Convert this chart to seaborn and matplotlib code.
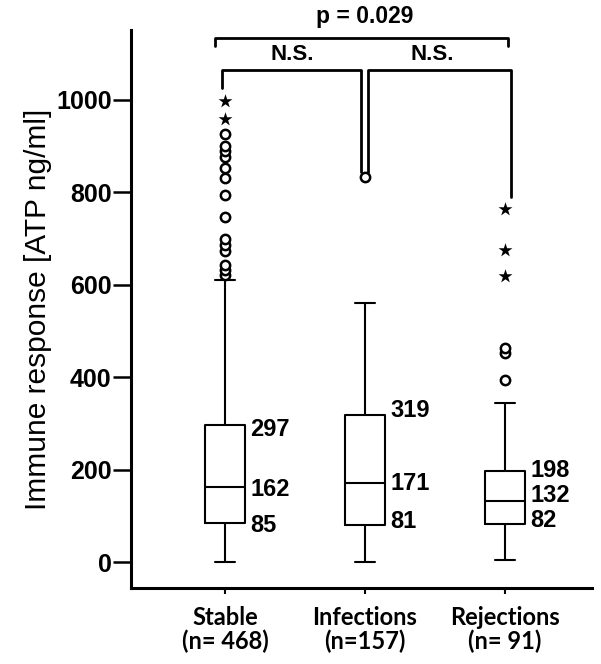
import numpy as np
import pandas as pd
import matplotlib
matplotlib.use("Agg")
import matplotlib.pyplot as plt
import seaborn as sns

# ---- data ----
groups = ["Stable", "Infections", "Rejections"]
tick_labels = ["Stable\n(n= 468)", "Infections\n(n=157)", "Rejections\n(n= 91)"]
whisker_low = [0, 0, 5]
q1 = [85, 81, 82]
median = [162, 171, 132]
q3 = [297, 319, 198]
whisker_high = [610, 560, 345]
circle_outliers = [
    [621, 632, 643, 672, 686, 698, 746, 794, 830, 852, 876, 888, 899, 926],
    [832],
    [394, 452, 462],
]
star_outliers = [
    [958, 997],
    [],
    [619, 675, 763],
]
p_text = "p = 0.029"
ns_text = "N.S."

sns.set_style("ticks")
plt.rcParams["font.family"] = ["Liberation Sans", "DejaVu Sans"]
for k in ("text.color", "axes.labelcolor", "xtick.color", "ytick.color",
          "axes.edgecolor"):
    plt.rcParams[k] = "black"

rows = []
for g, lo, a, m, b, hi in zip(groups, whisker_low, q1, median, q3, whisker_high):
    for v in (lo, a, m, b, hi):
        rows.append({"group": g, "value": v})
df = pd.DataFrame(rows)

fig = plt.figure(figsize=(6.01, 6.64), dpi=100)
ax = fig.add_axes([0.218, 0.1145, 0.767, 0.8405])

sns.boxplot(data=df, x="group", y="value", order=groups, whis=(0, 100),
            width=0.29, fill=False, color="black", linecolor="black",
            linewidth=1.5, showfliers=False, ax=ax)

for i, (circ, star) in enumerate(zip(circle_outliers, star_outliers)):
    if circ:
        ax.scatter([i] * len(circ), circ, s=45, facecolors="white",
                   edgecolors="black", linewidths=1.8, zorder=3, clip_on=False)
    if star:
        ax.scatter([i] * len(star), star, s=110, marker="*", color="black",
                   linewidths=0, zorder=3, clip_on=False)

# value labels beside boxes
label_offsets = [[-11, -6, -5], [8, 0, 6], [1, 11, 7]]
for i in range(3):
    for val, off in zip((q3[i], median[i], q1[i]), label_offsets[i]):
        ax.text(i + 0.18, val + off, str(val), ha="left", va="center",
                fontsize=17, fontweight="bold")

# significance brackets
lw = 2.0
ax.plot([-0.07, -0.07, 2.02, 2.02], [1117, 1134, 1134, 1117], color="black",
        lw=lw, clip_on=False)
ax.text(1.0, 1180, p_text, ha="center", va="center", fontsize=16.5,
        fontweight="bold")
ax.plot([-0.02, -0.02, 0.97, 0.97], [1026, 1065, 1065, 844], color="black",
        lw=lw, clip_on=False)
ax.plot([1.02, 1.02, 2.04, 2.04], [844, 1065, 1065, 790], color="black",
        lw=lw, clip_on=False)
ax.text(0.48, 1097, ns_text, ha="center", va="center", fontsize=16,
        fontweight="bold")
ax.text(1.48, 1097, ns_text, ha="center", va="center", fontsize=16,
        fontweight="bold")

ax.set_xlim(-0.67, 2.62)
ax.set_ylim(-56, 1151)
ax.set_yticks([0, 200, 400, 600, 800, 1000])
ax.set_yticklabels(["0", "200", "400", "600", "800", "1000"],
                   fontsize=18, fontweight="bold")
ax.set_xticks([0, 1, 2])
ax.set_xticklabels(tick_labels, fontsize=17, fontweight="bold",
                   family=["Lato", "DejaVu Sans"], linespacing=1.05)
ax.set_xlabel("")
ax.set_ylabel("Immune response [ATP ng/ml]", fontsize=21.5)
ax.yaxis.set_label_coords(-0.171, 0.5)
ax.tick_params(axis="y", direction="out", length=13, width=1.8, pad=1)
ax.tick_params(axis="x", direction="out", length=4, width=1.5, pad=9)
for s in ("top", "right"):
    ax.spines[s].set_visible(False)
ax.spines["left"].set_linewidth(2.2)
ax.spines["bottom"].set_linewidth(2.2)

fig.savefig("out.png", dpi=100)
